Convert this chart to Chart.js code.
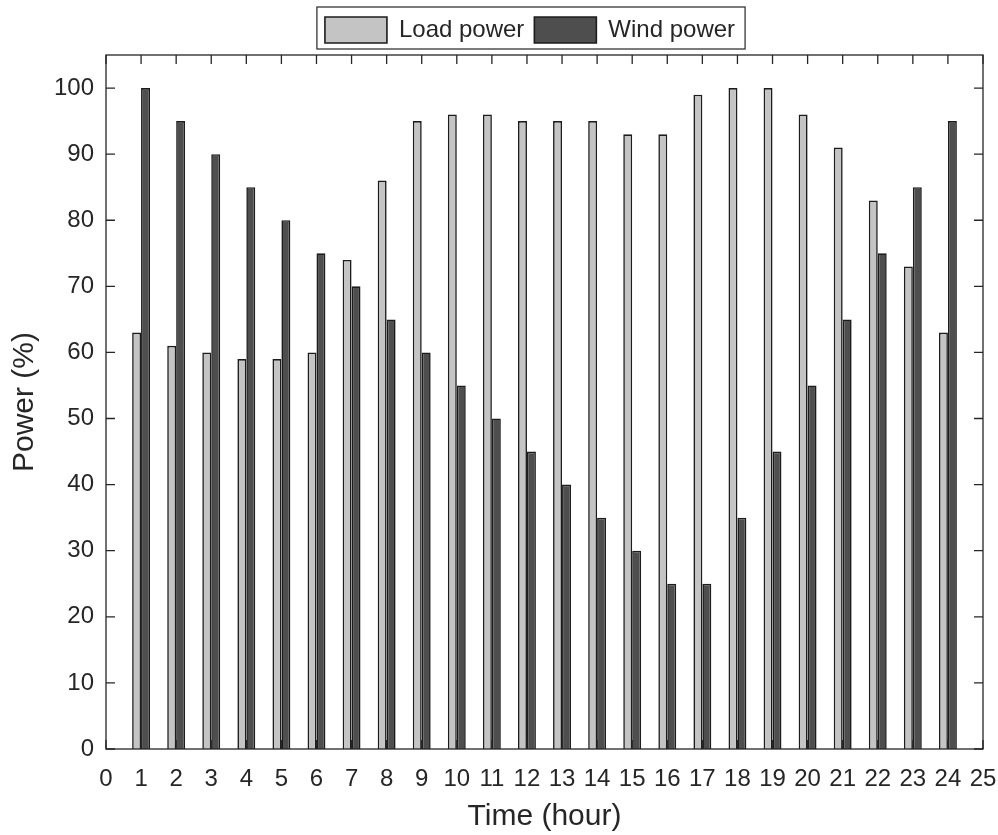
<!DOCTYPE html>
<html>
<head>
<meta charset="utf-8">
<script src="https://cdn.jsdelivr.net/npm/chart.js@4.4.1/dist/chart.umd.min.js"></script>
<style>
    html, body { margin: 0; padding: 0; background: #fff; }
    #wrap { width: 998px; height: 835px; }
</style>
</head>
<body>
<div id="wrap"><canvas id="power"></canvas></div>
<script>
const hours = [1, 2, 3, 4, 5, 6, 7, 8, 9, 10, 11, 12, 13, 14, 15, 16, 17, 18, 19, 20, 21, 22, 23, 24];
const loadPower = [63, 61, 60, 59, 59, 60, 74, 86, 95, 96, 96, 95, 95, 95, 93, 93, 99, 100, 100, 96, 91, 83, 73, 63];
const windPower = [100, 95, 90, 85, 80, 75, 70, 65, 60, 55, 50, 45, 40, 35, 30, 25, 25, 35, 45, 55, 65, 75, 85, 95];
const xTicks = [0, 1, 2, 3, 4, 5, 6, 7, 8, 9, 10, 11, 12, 13, 14, 15, 16, 17, 18, 19, 20, 21, 22, 23, 24, 25];
const yTicks = [0, 10, 20, 30, 40, 50, 60, 70, 80, 90, 100];

const ink = "#262626";
Chart.defaults.font.family = "'Liberation Sans', Arial, sans-serif";
Chart.defaults.color = ink;

const legendShift = { x: 31, y: -2 };

// matlab style box with inward ticks on all four sides + framed legend
const frameTicks = {
    id: "frameTicks",
    afterLayout(chart) {
        // legend sits a bit right of centre and slightly higher in the original
        const lg = chart.legend;
        lg.left += legendShift.x;
        lg.right += legendShift.x;
        lg.top += legendShift.y;
        lg.bottom += legendShift.y;
        (lg.legendHitBoxes || []).forEach((h) => {
            h.left += legendShift.x;
            h.top += legendShift.y;
        });
    },
    afterDraw(chart) {
        const { ctx, chartArea: a, scales: { x, y } } = chart;
        const len = 9;
        ctx.save();
        ctx.strokeStyle = ink;
        ctx.lineWidth = 1.3;
        ctx.beginPath();
        x.ticks.forEach((t) => {
            const px = x.getPixelForValue(t.value);
            ctx.moveTo(px, a.bottom);
            ctx.lineTo(px, a.bottom - len);
            ctx.moveTo(px, a.top);
            ctx.lineTo(px, a.top + len);
        });
        y.ticks.forEach((t) => {
            const py = y.getPixelForValue(t.value);
            ctx.moveTo(a.left, py);
            ctx.lineTo(a.left + len, py);
            ctx.moveTo(a.right, py);
            ctx.lineTo(a.right - len, py);
        });
        ctx.stroke();
        ctx.strokeRect(a.left, a.top, a.right - a.left, a.bottom - a.top);

        const hb = chart.legend.legendHitBoxes;
        if (hb && hb.length) {
            const first = hb[0];
            const last = hb[hb.length - 1];
            ctx.lineWidth = 1.2;
            ctx.strokeRect(
                first.left - 8,
                first.top - 8,
                last.left + last.width + 10 - (first.left - 8),
                first.height + 16
            );
        }
        ctx.restore();
    },
};

new Chart(document.getElementById("power"), {
    type: "bar",
    data: {
        labels: hours,
        datasets: [
            {
                label: "Load power",
                data: loadPower,
                backgroundColor: "#c4c4c4",
                borderColor: "#1c1c1c",
                borderWidth: 1.6,
            },
            {
                label: "Wind power",
                data: windPower,
                backgroundColor: "#4e4e4e",
                borderColor: "#1c1c1c",
                borderWidth: 1.6,
            },
        ],
    },
    options: {
        responsive: true,
        maintainAspectRatio: false,
        animation: false,
        categoryPercentage: 0.51,
        barPercentage: 1.0,
        layout: {
            padding: { top: 9, right: 0, bottom: 0, left: 0 },
        },
        plugins: {
            legend: {
                labels: {
                    boxWidth: 62,
                    boxHeight: 26,
                    padding: 10,
                    color: ink,
                    font: { size: 24 },
                },
            },
            tooltip: { enabled: false },
        },
        scales: {
            x: {
                type: "linear",
                min: 0,
                max: 25,
                offset: false,
                grid: { display: false, drawTicks: false },
                border: { display: false },
                afterBuildTicks: (s) => {
                    s.ticks = xTicks.map((v) => ({ value: v }));
                },
                afterFit: (s) => {
                    s.height = 86;
                    s.paddingRight = 15;
                },
                ticks: {
                    autoSkip: false,
                    maxRotation: 0,
                    padding: 16,
                    font: { size: 24 },
                },
                title: {
                    display: true,
                    text: "Time (hour)",
                    font: { size: 30 },
                    padding: { top: 0, bottom: 0 },
                },
            },
            y: {
                min: 0,
                max: 105,
                grid: { display: false, drawTicks: false },
                border: { display: false },
                afterBuildTicks: (s) => {
                    s.ticks = yTicks.map((v) => ({ value: v }));
                },
                afterFit: (s) => {
                    s.width = 106;
                },
                ticks: {
                    padding: 12,
                    font: { size: 24 },
                },
                title: {
                    display: true,
                    text: "Power (%)",
                    font: { size: 30 },
                    padding: { top: 7, bottom: 0 },
                },
            },
        },
    },
    plugins: [frameTicks],
});
</script>
</body>
</html>
